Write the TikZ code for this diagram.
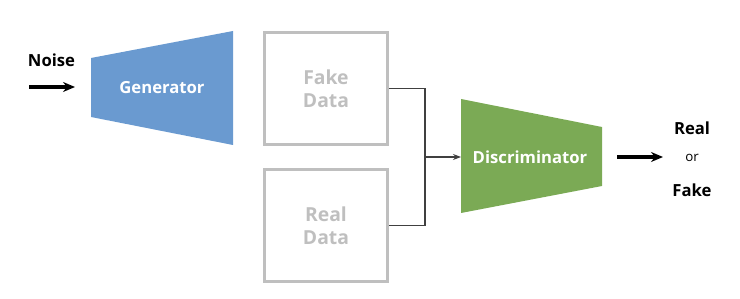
\documentclass[tikz,border=0pt]{standalone}
\usepackage{fontspec}
\setmainfont{Open Sans}
\usetikzlibrary{arrows.meta,positioning,calc}
\definecolor{genblue}{HTML}{6A9AD0}
\definecolor{discgreen}{HTML}{7BAA55}
\definecolor{boxgray}{HTML}{BFBFBF}
\definecolor{wire}{HTML}{404040}
\definecolor{txt}{HTML}{000000}

\begin{document}
\begin{tikzpicture}[
  x=0.75pt, y=-0.75pt,
  >=Stealth,
  databox/.style={rectangle, draw=boxgray, line width=2.2pt, minimum width=92.25pt, minimum height=84pt, text=boxgray, align=center, font=\bfseries\fontsize{14.5}{17}\selectfont},
  netlbl/.style={text=white, font=\bfseries\fontsize{12.5}{15}\selectfont, inner sep=0pt},
  iolbl/.style={text=txt, font=\bfseries\fontsize{12.5}{15}\selectfont, inner sep=1pt},
  bigarr/.style={-{Stealth[length=9pt,width=7.5pt]}, line width=2.8pt, color=txt},
  wirearr/.style={-{Stealth[length=6pt,width=4.5pt]}, line width=0.8pt, color=wire},
]
\useasboundingbox (0,0) rectangle (740,299);

% generator
\fill[genblue] (91,58) -- (233,31) -- (233,145) -- (91,117) -- cycle;
\node[netlbl] (gen) at (162,88) {Generator};
\coordinate (gen-in) at (75,87);

% noise input
\node[iolbl] (noise) at (51.5,60) {Noise};
\coordinate (noise-start) at (29,87);
\draw[bigarr] (noise-start) -- (gen-in);

% data boxes
\node[databox] (fake) at (326,88.5) {Fake\\Data};
\node[databox, below=16.5pt of fake] (real) {Real\\Data};

% discriminator
\fill[discgreen] (461,99) -- (602,127) -- (602,186) -- (461,213) -- cycle;
\node[netlbl] (disc) at (530,157) {Discriminator};
\coordinate (disc-in) at (461,157);
\coordinate (disc-out) at (617,157);

% merge
\coordinate (join) at (425,157);
\draw[wire, line width=0.8pt] (fake.east) -| (join);
\draw[wire, line width=0.8pt] (real.east) -| (join);
\draw[wirearr] (join) -- (disc-in);

% output
\node[font=\fontsize{10}{12}\selectfont, text=txt] (or) at (692,158) {or};
\node[iolbl] (isreal) at (692,128) {Real};
\node[iolbl] (isfake) at (692,190) {Fake};
\coordinate (out-end) at (663,157);
\draw[bigarr] (disc-out) -- (out-end);

\end{tikzpicture}
\end{document}
